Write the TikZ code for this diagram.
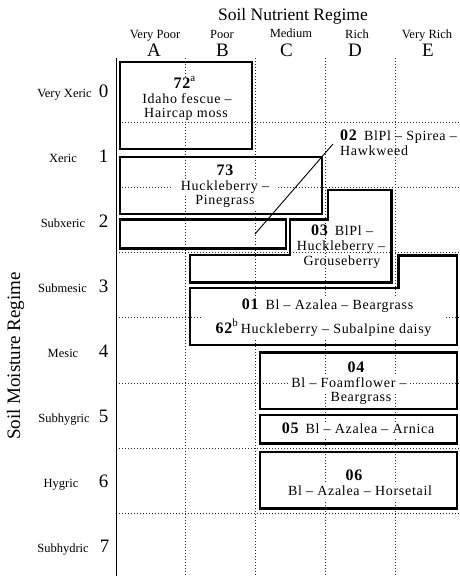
\documentclass[tikz,border=0pt]{standalone}
\usepackage{fontspec}
\setmainfont{Liberation Serif}
\newfontfamily\trk[LetterSpace=5]{Liberation Serif}
\newcommand\nb[1]{{\fontsize{16}{16}\selectfont\bfseries #1}}
\newcommand\supl[1]{\raisebox{6.5pt}{\fontsize{11}{11}\selectfont #1}}
\tikzset{
  dotln/.style={line width=0.9pt, black!85, dash pattern=on 0.9pt off 2.1pt},
  axln/.style={line width=0.9pt, black},
  bx/.style={line width=2.6pt, black, line join=miter},
  ttl/.style={font=\fontsize{17.5}{20}\selectfont, anchor=base, inner sep=0pt},
  sm/.style={font=\fontsize{12.5}{14}\selectfont, anchor=base, inner sep=0pt},
  big/.style={font=\fontsize{19}{20}\selectfont, anchor=base, inner sep=0pt},
  lbl/.style={font=\trk\fontsize{14}{16}\selectfont, anchor=base, inner xsep=2pt, inner ysep=1.5pt, fill=white, text height=10pt, text depth=3pt},
  lbln/.style={lbl, fill=none},
  leadln/.style={line width=0.9pt, black},
}
\begin{document}
\begin{tikzpicture}[x=1pt,y=-1pt]
\useasboundingbox (0,0) rectangle (459,576);
% grid
\foreach \yy in {122,187,252,317,383,448,513} \draw[dotln] (116,\yy) -- (470,\yy);
\foreach \xx in {185,255,325,395} \draw[dotln] (\xx,58) -- (\xx,580);
\draw[axln] (116,58) -- (116,580);
% titles
\node[ttl] (ttop) at (293,20) {Soil Nutrient Regime};
\node[font=\fontsize{19}{20}\selectfont, anchor=base, inner sep=0pt, rotate=90] (tleft) at (20,356) {Soil Moisture Regime};
% column labels
\node[sm] (cA) at (155,38.5) {Very Poor};
\node[sm] (cB) at (222,38.5) {Poor};
\node[sm] (cC) at (291,37) {Medium};
\node[sm] (cD) at (357,38.5) {Rich};
\node[sm] (cE) at (427,38) {Very Rich};
\node[big] (lA) at (154,56.5) {A};
\node[big] (lB) at (222.5,56.5) {B};
\node[big] (lC) at (286.5,56.5) {C};
\node[big] (lD) at (355,56.5) {D};
\node[big] (lE) at (428,56.5) {E};
% row labels
\node[sm] (r0) at (64.5,97) {Very Xeric};
\node[sm] (r1) at (63,162) {Xeric};
\node[sm] (r2) at (63,227) {Subxeric};
\node[sm] (r3) at (62.5,292) {Submesic};
\node[sm] (r4) at (63,357) {Mesic};
\node[sm] (r5) at (64,422) {Subhygric};
\node[sm] (r6) at (61,487) {Hygric};
\node[sm] (r7) at (63,552) {Subhydric};
\node[big, anchor=base east] (k0) at (108.5,97) {0};
\node[big, anchor=base east] (k1) at (108.5,162) {1};
\node[big, anchor=base east] (k2) at (108.5,227) {2};
\node[big, anchor=base east] (k3) at (108.5,292) {3};
\node[big, anchor=base east] (k4) at (108.5,357) {4};
\node[big, anchor=base east] (k5) at (108.5,422) {5};
\node[big, anchor=base east] (k6) at (108.5,487) {6};
\node[big, anchor=base east] (k7) at (109.5,552) {7};
% boxes
\draw[bx] (120,62) rectangle (252,149);
\draw[bx] (120,157) rectangle (322,214);
\draw[bx] (120,219.5) rectangle (286,248.5);
\draw[bx] (190,255) -- (290,255) -- (290,219.5) -- (328,219.5) -- (328,190) -- (391.5,190) -- (391.5,282.5) -- (190,282.5) -- cycle;
\draw[bx] (190,288) -- (398.5,288) -- (398.5,255.5) -- (457,255.5) -- (457,345) -- (190,345) -- cycle;
\draw[bx] (260,352.5) rectangle (457,409);
\draw[bx] (260,415) rectangle (457,443.5);
\draw[bx] (260,452) rectangle (457,508.5);
% leader for 02
\coordinate (ld1) at (333,144);
\coordinate (ld2) at (255,234);
\draw[leadln] (ld1) -- (ld2);
% texts
\node[lbl] (t72a) at (184.5,88) {\nb{72}\supl{a}};
\node[lbl] (t72b) at (187,103) {Idaho fescue –};
\node[lbl] (t72c) at (186,117) {Haircap moss};
\node[lbl] (t73a) at (225,175) {\nb{73}};
\node[lbl, inner xsep=9pt] (t73b) at (225,190) {Huckleberry –};
\node[lbl] (t73c) at (225,204) {Pinegrass};
\node[lbln] (t03a) at (342,235) {\nb{03}\hspace{7pt}BlPl –};
\node[lbln] (t03b) at (341,250) {Huckleberry –};
\node[lbln] (t03c) at (342,265) {Grouseberry};
\node[lbln, anchor=base west] (t02a) at (338,140) {\nb{02}\hspace{7pt}BlPl – Spirea –};
\node[lbln, anchor=base west] (t02b) at (338,155) {Hawkweed};
\node[lbl, inner xsep=15pt, text height=17pt] (t01b) at (323.5,333) {\nb{62}\supl{b}\hspace{3pt}Huckleberry – Subalpine daisy};
\node[lbl] (t01a) at (327.5,309) {\nb{01}\hspace{7pt}Bl – Azalea – Beargrass};
\node[lbl] (t04a) at (356,372) {\nb{04}};
\node[lbl] (t04b) at (349,387) {Bl – Foamflower –};
\node[lbl] (t04c) at (361,401) {Beargrass};
\node[lbl] (t05a) at (358,433) {\nb{05}\hspace{7pt}Bl – Azalea – Arnica};
\node[lbl] (t06a) at (354,480) {\nb{06}};
\node[lbl] (t06b) at (360,495) {Bl – Azalea – Horsetail};
\end{tikzpicture}
\end{document}
